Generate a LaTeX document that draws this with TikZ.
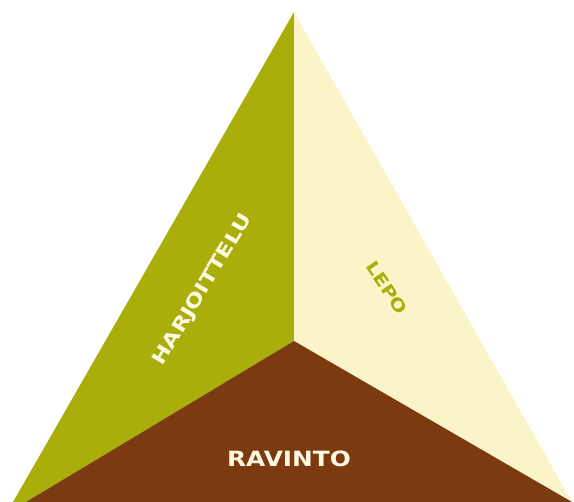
\documentclass[tikz,border=0pt]{standalone}
\usepackage{fontspec}
\setmainfont{DejaVu Sans}
\definecolor{olive}{HTML}{A9AE0B}
\definecolor{cream}{HTML}{FBF4C8}
\definecolor{brown}{HTML}{7B3A0F}
\definecolor{txtlight}{HTML}{FFF8E0}
\tikzset{
  lbl/.style={font=\bfseries, inner sep=0pt, anchor=center}
}
\begin{document}
\begin{tikzpicture}[x=1pt,y=-1pt]
\useasboundingbox (0,0) rectangle (574,502);
\coordinate (apex) at (294,12);
\coordinate (mid) at (294,341);
\coordinate (bl) at (13,502);
\coordinate (br) at (572,502);
\coordinate (bbl) at (26,502);
\fill[olive] (apex) -- (mid) -- (bbl) -- (bl) -- cycle;
\fill[cream] (apex) -- (br) -- (mid) -- cycle;
\fill[brown] (mid) -- (br) -- (bbl) -- cycle;
\node[lbl, text=txtlight, rotate=59, font=\bfseries\fontsize{19}{19}\selectfont] (harj) at (203,290) {\scalebox{1.22}[1]{HARJOITTELU}};
\node[lbl, text=olive, rotate=-56, font=\bfseries\fontsize{17}{17}\selectfont] (lepo) at (387,288) {\scalebox{1.2}[1]{LEPO}};
\node[lbl, text=txtlight, font=\bfseries\fontsize{21}{21}\selectfont] (ravinto) at (289,459) {\scalebox{1.18}[1]{RAVINTO}};
\end{tikzpicture}
\end{document}
